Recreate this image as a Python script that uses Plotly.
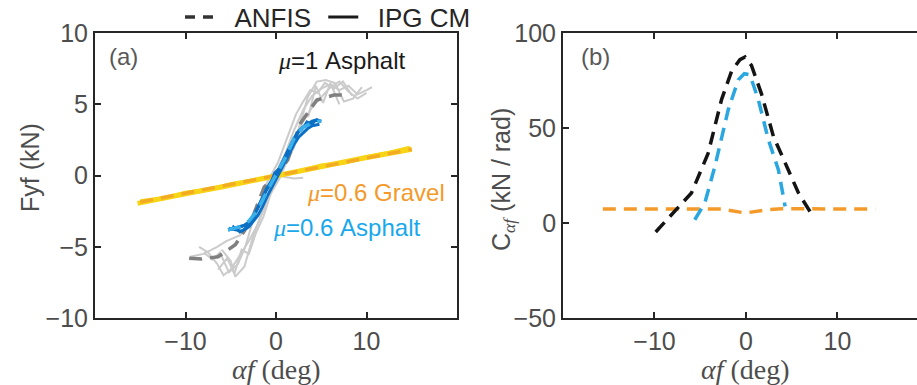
import plotly.graph_objects as go

# ---------------- data: panel (a) ----------------
# IPG CM, mu=1 asphalt (noisy measured loops, grey)
g1_x = [-9.5, -8.0, -6.5, -5.5, -4.0, -3.0, -2.0, -1.0, 0.0, 1.0, 2.0, 3.0, 4.0, 5.0, 6.0, 7.0, 8.0, 9.0, 10.0, 10.6]
g1_y = [-5.7, -5.5, -5.0, -4.6, -4.2, -3.5, -2.2, -0.9, 0.1, 1.5, 3.2, 4.6, 5.6, 6.1, 6.4, 6.0, 6.3, 5.7, 6.0, 6.2]
g2_x = [10.0, 9.0, 8.0, 7.0, 6.0, 5.0, 4.0, 3.0, 2.0, 1.0, 0.0, -1.0, -2.0, -3.0, -4.0, -5.0, -5.8, -6.5, -7.5, -8.5]
g2_y = [5.8, 5.4, 5.9, 6.6, 6.2, 5.5, 4.8, 3.8, 2.5, 0.9, -0.4, -1.8, -3.4, -4.6, -5.6, -6.6, -7.0, -6.2, -5.4, -5.0]
g3_x = [-6.0, -5.0, -4.5, -3.5, -2.5, -1.5, -0.5, 0.5, 1.5, 2.5, 3.5, 4.5, 5.5, 6.5, 7.5, 8.5, 9.5]
g3_y = [-5.2, -6.0, -7.1, -6.4, -4.2, -2.5, -0.6, 0.9, 2.0, 3.2, 5.5, 6.6, 6.7, 6.5, 5.2, 5.4, 6.2]
g4_x = [0.5, 1.0, 2.0, 3.0]
g4_y = [0.0, -0.1, -0.2, -0.15]
g5_x = [-8.0, -7.0, -6.2, -5.2, -4.2, -3.4, -2.6, -1.8, -1.0, 0.2, 1.2, 2.2, 3.0, 3.8, 4.6, 5.4, 6.4, 7.4, 8.4]
g5_y = [-5.4, -5.9, -5.4, -6.8, -6.2, -5.0, -3.3, -1.9, -0.5, 0.9, 2.6, 4.3, 5.2, 6.0, 5.8, 6.5, 6.1, 6.6, 5.6]
g6_x = [7.0, 6.0, 5.2, 4.4, 3.6, 2.8, 2.0, 1.2, 0.4, -0.6, -1.4, -2.2, -3.0, -3.8, -4.6, -5.4, -6.4]
g6_y = [5.0, 6.5, 5.1, 6.3, 4.2, 4.0, 2.0, 1.0, -0.2, -1.3, -2.9, -4.0, -5.5, -5.2, -6.9, -5.8, -6.6]
# ANFIS, mu=1 asphalt
a1_x = [-9.6, -8.2, -6.4, -4.5, -2.7, -1.3, 0.0, 1.3, 2.7, 4.5, 6.4, 8.0]
a1_y = [-5.8, -5.86, -5.7, -4.86, -3.1, -0.8, 0.0, 1.1, 3.67, 5.3, 5.65, 5.65]

# IPG CM, mu=0.6 asphalt (blue)
b1_x = [-5.3, -4.5, -3.5, -3.0, -2.5, -2.0, -1.5, -1.0, -0.5, 0.0, 0.5, 1.0, 1.5, 2.0, 2.5, 3.0, 3.5, 4.0, 4.5, 5.0]
b1_y = [-3.8, -3.7, -3.5, -3.3, -2.9, -2.3, -1.6, -0.9, -0.4, 0.0, 0.6, 1.3, 2.0, 2.6, 3.1, 3.4, 3.6, 3.8, 3.9, 3.8]
b2_x = [4.8, 4.0, 3.5, 3.0, 2.5, 2.0, 1.5, 1.0, 0.5, 0.0, -0.5, -1.0, -1.5, -2.0, -2.5, -3.0, -3.8, -4.6, -5.2]
b2_y = [3.6, 3.5, 3.3, 3.0, 2.7, 2.2, 1.6, 0.9, 0.3, -0.2, -0.9, -1.5, -2.2, -2.8, -3.2, -3.6, -3.9, -3.8, -3.7]
b3_x = [-4.8, -4.0, -3.2, -2.6, -2.2, -1.7, -1.2, -0.7, -0.2, 0.3, 0.8, 1.3, 1.8, 2.3, 2.8, 3.4, 4.0, 4.6]
b3_y = [-3.5, -4.0, -3.6, -3.2, -2.5, -2.0, -1.2, -0.7, 0.2, 0.5, 1.1, 1.8, 2.3, 3.0, 3.2, 3.8, 3.6, 4.0]
# ANFIS, mu=0.6 asphalt
a2_x = [-5.3, -4.0, -3.0, -2.0, -1.0, 0.0, 1.0, 2.0, 3.0, 4.0, 5.0]
a2_y = [-3.8, -3.6, -3.2, -2.4, -1.1, 0.0, 1.2, 2.6, 3.4, 3.7, 3.85]

# IPG CM, mu=0.6 gravel (yellow)
y1_x = [-15.3, -12.0, -9.0, -6.0, -3.0, 0.0, 3.0, 6.0, 9.0, 12.0, 15.0]
y1_y = [-1.95, -1.5, -1.15, -0.8, -0.4, 0.0, 0.38, 0.78, 1.15, 1.5, 1.85]
y2_x = [-15.0, -12.5, -10.0, -7.5, -5.0, -2.5, 0.0, 2.5, 5.0, 7.5, 10.0, 12.5, 14.8]
y2_y = [-1.8, -1.6, -1.2, -1.0, -0.6, -0.35, -0.05, 0.3, 0.7, 0.9, 1.3, 1.6, 1.95]
# ANFIS, mu=0.6 gravel
a3_x = [-15.0, -7.5, 0.0, 7.5, 15.0]
a3_y = [-1.85, -0.92, 0.0, 0.92, 1.85]

# ---------------- data: panel (b) ----------------
c1_x = [-9.87, -7.4, -5.96, -4.13, -2.67, -1.57, -0.66, -0.1, 0.6, 1.7, 3.0, 4.46, 5.74, 7.0]
c1_y = [-4.7, 7.9, 15.8, 36.8, 65.0, 80.0, 86.0, 87.4, 83.0, 68.0, 45.6, 29.8, 15.8, 6.1]
c2_x = [-5.6, -4.5, -3.4, -1.94, -0.84, -0.18, 0.44, 1.35, 2.45, 3.55, 4.28]
c2_y = [1.75, 10.5, 29.8, 59.6, 75.4, 78.6, 78.0, 65.0, 43.9, 28.0, 8.8]
c3_x = [-15.65, -8.0, -2.67, -0.1, 2.45, 3.9, 14.15]
c3_y = [7.4, 7.4, 7.4, 5.3, 7.0, 7.5, 7.4]

x_ticks = [-10, 0, 10]
ya_ticks = [-10, -5, 0, 5, 10]
yb_ticks = [-50, 0, 50, 100]

GREY_DATA = "#cbcbcb"
GREY_ANFIS = "#808080"
BLUE_DATA = "#0b6fc4"
BLUE_ANFIS = "#3ab0ea"
YELLOW = "#f7d516"
ORANGE = "#f39a2a"
TXT = "#4d4d4d"
SANS = "Liberation Sans, Arial, sans-serif"
SERIF = "Liberation Serif, DejaVu Serif, serif"

fig = go.Figure()

def line(x, y, color, width, dash="solid", xa="x", ya="y", opacity=1.0):
    fig.add_trace(go.Scatter(x=x, y=y, mode="lines", xaxis=xa, yaxis=ya,
                             line=dict(color=color, width=width, dash=dash),
                             opacity=opacity, showlegend=False, hoverinfo="skip"))

DASH = "13px,8px"
# panel a
for gx, gy in [(g1_x, g1_y), (g2_x, g2_y), (g3_x, g3_y), (g4_x, g4_y), (g5_x, g5_y), (g6_x, g6_y)]:
    line(gx, gy, GREY_DATA, 2)
line(a1_x, a1_y, GREY_ANFIS, 3.5, DASH)
line(y1_x, y1_y, YELLOW, 5)
line(y2_x, y2_y, YELLOW, 4)
line(a3_x, a3_y, ORANGE, 3.5, DASH, opacity=0.7)
line(b1_x, b1_y, BLUE_DATA, 3.5)
line(b2_x, b2_y, BLUE_DATA, 3)
line(b3_x, b3_y, BLUE_DATA, 2)
line(a2_x, a2_y, BLUE_ANFIS, 3.5, DASH)
# panel b
line(c3_x, c3_y, ORANGE, 3.5, DASH, "x2", "y2")
line(c1_x, c1_y, "#141414", 3.5, DASH, "x2", "y2")
line(c2_x, c2_y, "#2aa7e0", 3.5, DASH, "x2", "y2")

# legend entries
fig.add_trace(go.Scatter(x=[None], y=[None], mode="lines", name="\u00a0\u00a0ANFIS\u00a0",
                         line=dict(color="#333333", width=3.5, dash="10px,8px")))
fig.add_trace(go.Scatter(x=[None], y=[None], mode="lines", name="\u00a0\u00a0IPG CM",
                         line=dict(color="#1a1a1a", width=3)))

axis_common = dict(showgrid=False, zeroline=False, showline=True, linecolor="#262626",
                   linewidth=2, ticks="inside", ticklen=6, tickwidth=2, tickcolor="#262626",
                   tickfont=dict(family=SANS, size=25, color=TXT))

fig.update_layout(
    width=917, height=385,
    margin=dict(l=0, r=0, t=0, b=0, autoexpand=False),
    paper_bgcolor="white", plot_bgcolor="white",
    showlegend=True,
    legend=dict(orientation="h",
                x=180 / 917, y=1 - 17 / 385, xanchor="left", yanchor="middle",
                font=dict(family=SANS, size=26, color="#262626"),
                bgcolor="rgba(0,0,0,0)"),
    xaxis=dict(domain=[0.1036, 0.4984], range=[-20, 20], tickvals=x_ticks,
               mirror="ticks", anchor="y", **axis_common),
    yaxis=dict(domain=[0.174, 0.914], range=[-10, 10], tickvals=ya_ticks,
               mirror="ticks", anchor="x", **axis_common),
    xaxis2=dict(domain=[0.614, 1.0], range=[-20, 18.7], tickvals=x_ticks,
                mirror="ticks", anchor="y2", **axis_common),
    yaxis2=dict(domain=[0.174, 0.914], range=[-50, 100], tickvals=yb_ticks,
                mirror=False, anchor="x2", **axis_common),
)

ann = []
def txt(text, x, y, xref, yref, color, size=24, family=SANS, angle=0, xanchor="center", yanchor="middle"):
    ann.append(dict(text=text, x=x, y=y, xref=xref, yref=yref, showarrow=False,
                    font=dict(family=family, size=size, color=color), textangle=angle,
                    xanchor=xanchor, yanchor=yanchor))

MU = "<i><span style='font-family:Liberation Serif'>μ</span></i>"
txt("(a)", 123 / 917, 1 - 57 / 385, "paper", "paper", "#595959")
txt("(b)", 595 / 917, 1 - 57 / 385, "paper", "paper", "#595959")
txt(MU + "=1 Asphalt", 7.2, 8.1, "x", "y", "#1a1a1a")
txt(MU + "=0.6 Gravel", 11.0, -1.2, "x", "y", ORANGE)
txt(MU + "=0.6 Asphalt", 7.8, -3.65, "x", "y", "#1aa8ec")
# axis titles
txt("Fyf (kN)", 30 / 917, 1 - 168 / 385, "paper", "paper", TXT, size=25, angle=-90)
txt("C<sub><i><span style='font-family:Liberation Serif'>αf</span></i></sub> (kN / rad)",
    503 / 917, 1 - 180 / 385, "paper", "paper", TXT, size=25, angle=-90)
txt("<i>αf</i> (deg)", 0, 1 - 369 / 385, "x", "paper", TXT, size=28, family=SERIF)
txt("<i>αf</i> (deg)", 0, 1 - 369 / 385, "x2", "paper", TXT, size=28, family=SERIF)
fig.update_layout(annotations=ann)

fig.write_html("out.html")
